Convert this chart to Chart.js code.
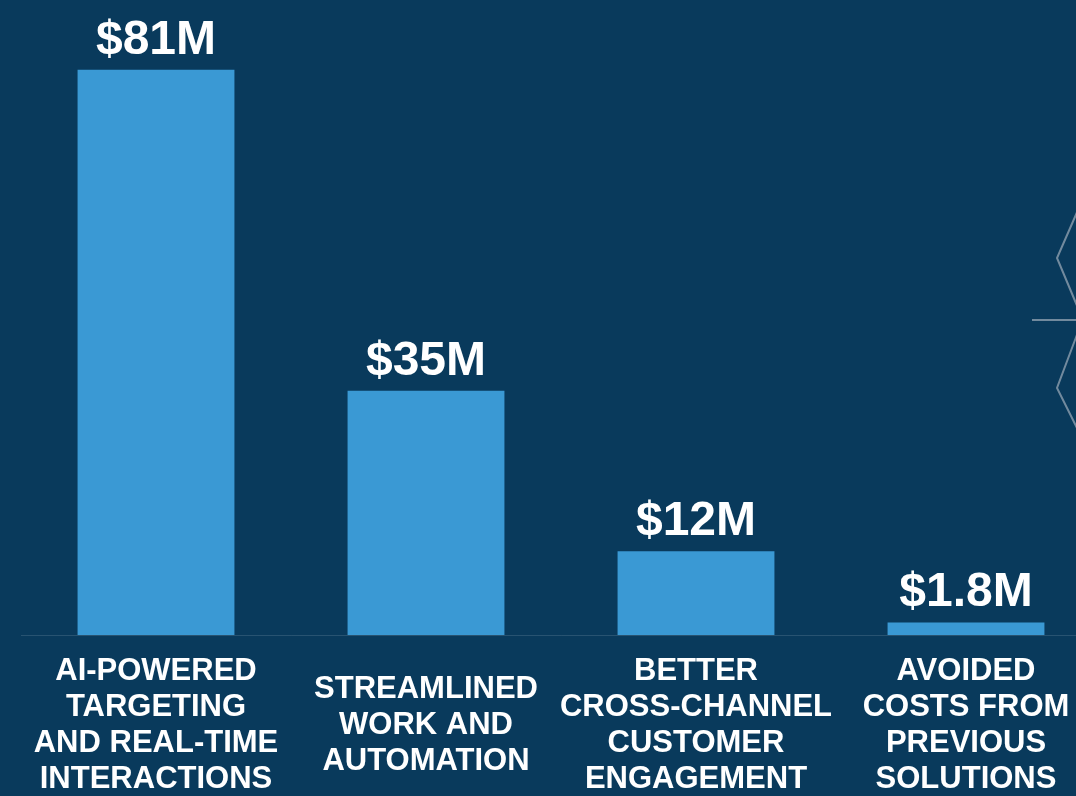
<!DOCTYPE html>
<html>
<head>
<meta charset="utf-8">
<script src="https://cdn.jsdelivr.net/npm/chart.js@4/dist/chart.umd.min.js"></script>
<style>
  html, body { margin: 0; padding: 0; background: #093a5c; overflow: hidden; }
  #wrap { width: 1076px; height: 796px; overflow: hidden; position: relative; }
  canvas { display: block; }
</style>
</head>
<body>
<div id="wrap"><canvas id="c" width="1101" height="796"></canvas></div>
<script>
// Benefit categories (multi-line labels) and their values in $ millions
const categories = [
  ["AI-POWERED", "TARGETING", "AND REAL-TIME", "INTERACTIONS"],
  ["STREAMLINED", "WORK AND", "AUTOMATION"],
  ["BETTER", "CROSS-CHANNEL", "CUSTOMER", "ENGAGEMENT"],
  ["AVOIDED", "COSTS FROM", "PREVIOUS", "SOLUTIONS"]
];
const valuesMillions = [81, 35, 12, 1.8];

const BG = "#093a5c";
const BAR = "#3a99d4";
const FONT = "'Liberation Sans', Arial, sans-serif";
const LABEL_SIZE = 31;
const LINE_H = 36.2;
const AXIS_H = 161;

// "$81M"-style value captions above each bar
const valueLabels = {
  id: "valueLabels",
  afterDatasetsDraw(chart) {
    const ctx = chart.ctx;
    const meta = chart.getDatasetMeta(0);
    ctx.save();
    ctx.fillStyle = "#ffffff";
    ctx.font = "bold 48px " + FONT;
    ctx.textAlign = "center";
    ctx.textBaseline = "alphabetic";
    meta.data.forEach((bar, i) => {
      ctx.fillText("$" + valuesMillions[i] + "M", bar.x, bar.y - 16);
    });
    ctx.restore();
  }
};

// Category names under the axis, each block centred on its bar
const categoryLabels = {
  id: "categoryLabels",
  afterDraw(chart) {
    const ctx = chart.ctx;
    const xs = chart.scales.x;
    const maxLines = Math.max(...categories.map(c => c.length));
    ctx.save();
    ctx.fillStyle = "#ffffff";
    ctx.font = "bold " + LABEL_SIZE + "px " + FONT;
    ctx.textAlign = "center";
    ctx.textBaseline = "middle";
    categories.forEach((lines, i) => {
      const x = xs.getPixelForValue(i);
      const top = chart.chartArea.bottom + 18 + LINE_H / 2 + (maxLines - lines.length) * LINE_H / 2;
      lines.forEach((t, j) => ctx.fillText(t, x, top + j * LINE_H));
    });
    ctx.restore();
  }
};

// Thin grey chevron ornament at the right edge
const edgeOrnament = {
  id: "edgeOrnament",
  afterDraw(chart) {
    const ctx = chart.ctx;
    ctx.save();
    ctx.strokeStyle = "rgba(150,165,180,0.75)";
    ctx.lineWidth = 2;
    ctx.beginPath();
    ctx.moveTo(1078, 210); ctx.lineTo(1057, 258); ctx.lineTo(1078, 308);
    ctx.moveTo(1032, 320); ctx.lineTo(1078, 320);
    ctx.moveTo(1078, 332); ctx.lineTo(1057, 388); ctx.lineTo(1078, 430);
    ctx.stroke();
    ctx.restore();
  }
};

new Chart(document.getElementById("c"), {
  type: "bar",
  data: {
    labels: categories,
    datasets: [{
      data: valuesMillions,
      backgroundColor: BAR,
      borderWidth: 0,
      categoryPercentage: 1,
      barPercentage: 0.581
    }]
  },
  options: {
    responsive: false,
    animation: false,
    layout: { padding: { left: 21, right: 0, top: 0, bottom: 0 } },
    plugins: { legend: { display: false }, tooltip: { enabled: false } },
    scales: {
      x: {
        grid: { display: false, drawTicks: false },
        border: { display: true, color: "rgba(255,255,255,0.13)", width: 1 },
        ticks: { display: false },
        afterFit(scale) { scale.height = AXIS_H; }
      },
      y: {
        display: false,
        min: 0,
        max: 91
      }
    }
  },
  plugins: [{
    id: "bg",
    beforeDraw(chart) {
      const ctx = chart.ctx;
      ctx.save();
      ctx.fillStyle = BG;
      ctx.fillRect(0, 0, chart.width, chart.height);
      ctx.restore();
    }
  }, valueLabels, categoryLabels, edgeOrnament]
});
</script>
</body>
</html>
